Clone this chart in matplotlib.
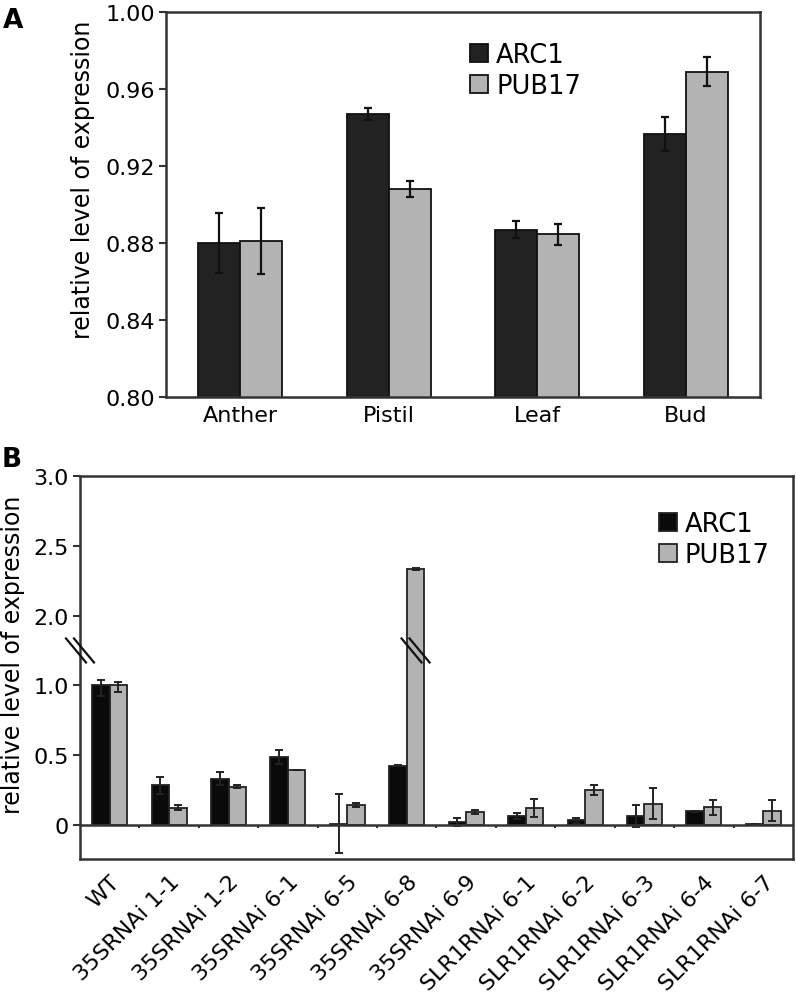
import numpy as np
import matplotlib
matplotlib.use("Agg")
import matplotlib.pyplot as plt
from matplotlib.lines import Line2D

plt.rcParams['font.family'] = ['DejaVu Sans']

# ---------------- Data ----------------
tissues = ["Anther", "Pistil", "Leaf", "Bud"]
arc1_a = [0.880, 0.947, 0.887, 0.9366]
arc1_a_err = [0.0155, 0.003, 0.0045, 0.009]
pub17_a = [0.881, 0.908, 0.8845, 0.969]
pub17_a_err = [0.017, 0.004, 0.0055, 0.0075]
yticks_a = [0.80, 0.84, 0.88, 0.92, 0.96, 1.00]

lines_b = ["WT", "35SRNAi 1-1", "35SRNAi 1-2", "35SRNAi 6-1", "35SRNAi 6-5",
           "35SRNAi 6-8", "35SRNAi 6-9", "SLR1RNAi 6-1", "SLR1RNAi 6-2",
           "SLR1RNAi 6-3", "SLR1RNAi 6-4", "SLR1RNAi 6-7"]
arc1_b = [1.0, 0.284, 0.332, 0.485, 0.01, 0.425, 0.02, 0.062, 0.033, 0.064, 0.098, 0.005]
arc1_b_err = [0.075, 0.063, 0.048, 0.051, 0.21, 0.005, 0.03, 0.02, 0.02, 0.082, 0.005, 0.0]
pub17_b = [1.0, 0.124, 0.275, 0.392, 0.143, 2.334, 0.093, 0.122, 0.248, 0.153, 0.127, 0.103]
pub17_b_err = [0.045, 0.019, 0.012, 0.0, 0.013, 0.01, 0.012, 0.063, 0.035, 0.11, 0.054, 0.074]
yticks_b = [0, 0.5, 1.0, 2.0, 2.5, 3.0]
yticklabels_b = ["0", "0.5", "1.0", "2.0", "2.5", "3.0"]

DARK = "#222222"
GRAY = "#b3b3b3"
SPINE = "#333333"
TICKFS = 16
LABELFS = 17

fig = plt.figure(figsize=(7.97, 9.95), dpi=100)

# ---------------- Panel A ----------------
axA = fig.add_axes([166/797, 1-398/995, 594/797, 385/995])
w = 0.283
x = np.arange(len(tissues))
axA.bar(x - w/2, arc1_a, w, color=DARK, edgecolor="#111111", linewidth=1.3,
        label="ARC1", zorder=2)
axA.bar(x + w/2, pub17_a, w, color=GRAY, edgecolor="#111111", linewidth=1.3,
        label="PUB17", zorder=2)
ekw = dict(fmt="none", ecolor="#111111", elinewidth=1.6, capsize=3, capthick=1.6, zorder=3)
axA.errorbar(x - w/2, arc1_a, yerr=arc1_a_err, **ekw)
axA.errorbar(x + w/2, pub17_a, yerr=pub17_a_err, **ekw)
axA.set_xlim(-0.5, len(tissues) - 0.5)
axA.set_ylim(0.80, 1.00)
axA.set_yticks(yticks_a)
axA.set_yticklabels([f"{v:.2f}" for v in yticks_a])
axA.set_xticks(x)
axA.set_xticklabels(tissues)
axA.tick_params(axis='x', length=0, pad=6, labelsize=TICKFS)
axA.tick_params(axis='y', length=5, width=1.5, color=SPINE, labelsize=TICKFS, pad=3)
for s in axA.spines.values():
    s.set_color(SPINE)
    s.set_linewidth(1.8)
axA.set_ylabel("relative level of expression", fontsize=LABELFS)
axA.yaxis.set_label_coords(-0.1195, 0.566)
axA.legend(loc="upper left", bbox_to_anchor=(0.495, 0.95), frameon=False,
           fontsize=18.5, handlelength=0.7, handleheight=0.7,
           handletextpad=0.3, labelspacing=0.2, borderaxespad=0)
fig.text(3/797, 1-28/995, "A", fontsize=19, fontweight="bold", ha="left", va="baseline")

# ---------------- Panel B ----------------
def fwd(v):
    v = np.asarray(v, dtype=float)
    return np.where(v <= 1, v, np.where(v <= 2, 1 + (v - 1) * 0.5, v - 0.5))

def inv(d):
    d = np.asarray(d, dtype=float)
    return np.where(d <= 1, d, np.where(d <= 1.5, 1 + (d - 1) * 2, d + 0.5))

axB = fig.add_axes([80/797, 1-860/995, 713/797, 383/995])
axB.set_yscale('function', functions=(fwd, inv))
wb = 0.295
xb = np.arange(len(lines_b))
axB.bar(xb - wb/2, arc1_b, wb, color="#0a0a0a", edgecolor="#222222", linewidth=1.3,
        label="ARC1", zorder=2)
axB.bar(xb + wb/2, pub17_b, wb, color=GRAY, edgecolor="#222222", linewidth=1.3,
        label="PUB17", zorder=2)
ekwb = dict(fmt="none", ecolor="#222222", elinewidth=1.4, capsize=3, capthick=1.4, zorder=3)
axB.errorbar(xb - wb/2, arc1_b, yerr=arc1_b_err, **ekwb)
axB.errorbar(xb + wb/2, pub17_b, yerr=pub17_b_err, **ekwb)
axB.set_xlim(-0.5, len(lines_b) - 0.5)
axB.set_ylim(-0.244, 3.0)
axB.axhline(0, color=SPINE, linewidth=1.8, zorder=4)
axB.vlines(xb[:-1] + 0.5, -0.022, 0, color=SPINE, linewidth=1.5, zorder=4)
axB.set_yticks(yticks_b)
axB.set_yticklabels(yticklabels_b)
axB.yaxis.set_minor_locator(matplotlib.ticker.NullLocator())
axB.set_xticks(xb)
axB.set_xticklabels(lines_b, rotation=45, ha="right", rotation_mode="anchor")
axB.tick_params(axis='x', length=0, pad=9, labelsize=TICKFS)
axB.tick_params(axis='y', length=5, width=1.5, color=SPINE, labelsize=TICKFS, pad=3)
for s in axB.spines.values():
    s.set_color(SPINE)
    s.set_linewidth(1.8)
axB.set_ylabel("relative level of expression", fontsize=LABELFS)
axB.yaxis.set_label_coords(-0.0771, 0.535)
axB.legend(loc="upper left", bbox_to_anchor=(0.798, 0.935), frameon=False,
           fontsize=18.5, handlelength=0.7, handleheight=0.7,
           handletextpad=0.3, labelspacing=0.2, borderaxespad=0)
fig.text(2/797, 1-467/995, "B", fontsize=19, fontweight="bold", ha="left", va="baseline")

# break marks (decorations) drawn in pixel coordinates
fig.canvas.draw()
def break_mark(px, py):
    for dx in (-4, 4):
        fig.add_artist(Line2D([px + dx - 10, px + dx + 10], [py + 12, py - 12],
                              transform=None, color="#111111", linewidth=1.6, zorder=10))

ybrk = axB.transData.transform((0, 1.5))[1]
xax = axB.transAxes.transform((0, 0))[0]
break_mark(xax, ybrk)
xbar = axB.transData.transform((xb[5] + wb/2, 0))[0]
break_mark(xbar, ybrk)

fig.savefig("out.png", dpi=100)
